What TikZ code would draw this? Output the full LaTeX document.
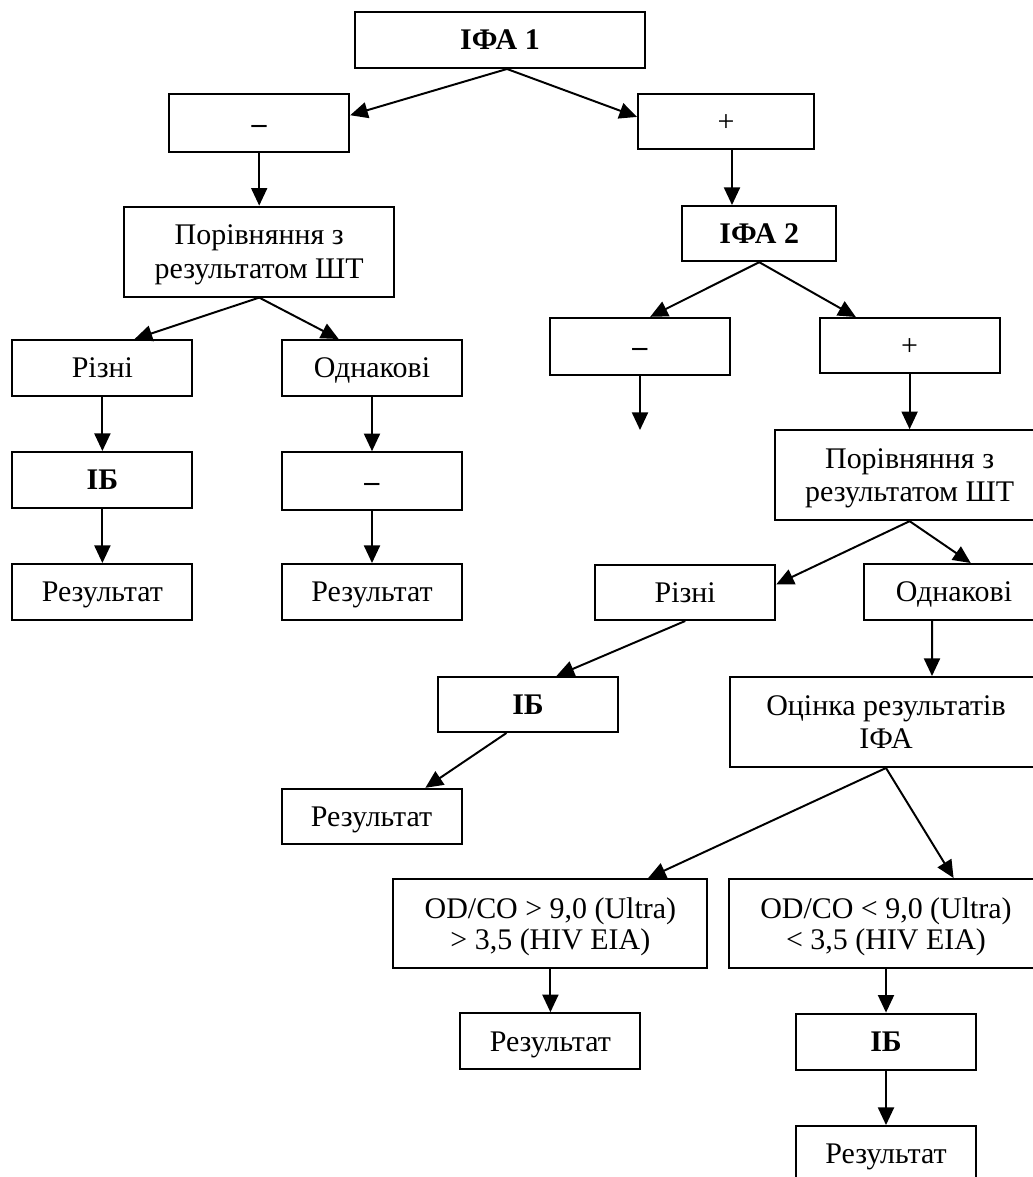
\documentclass[tikz,border=0pt]{standalone}
\usepackage{fontspec}
\setmainfont{Liberation Serif}
\usetikzlibrary{arrows.meta,calc}
\tikzset{
  algnode/.style={draw, line width=1.4pt, align=center, minimum width=45mm, minimum height=14mm, inner sep=2pt, text depth=0pt, font=\fontsize{21.3}{23.5}\selectfont},
  algbox/.style={algnode, text height=14pt},
  algwidebox/.style={algnode, minimum width=67.5mm, minimum height=22.5mm},
  algodbox/.style={algnode, minimum width=78.5mm, minimum height=22.3mm, font=\fontsize{21.3}{21.5}\selectfont},
  algarrow/.style={-{Triangle[length=4.4mm,width=4mm]}, line width=1.4pt}
}
\begin{document}
\begin{tikzpicture}
\useasboundingbox (0,0) rectangle (25.8,-29.425);
\node[algbox, minimum width=72.5mm] (ifa1) at (12.5,-1.0) {\textbf{ІФА 1}};
\node[algbox, minimum height=14.5mm] (neg1) at (6.48,-3.08) {\textbf{–}};
\node[algbox, minimum width=44mm, minimum height=13.8mm] (pos1) at (18.15,-3.04) {+};
\node[algwidebox] (cmp1) at (6.48,-6.29) {Порівняння з\\результатом ШТ};
\node[algbox, minimum width=38.5mm, minimum height=13.8mm] (ifa2) at (18.98,-5.84) {\textbf{ІФА 2}};
\node[algbox] (diff1) at (2.56,-9.2) {Різні};
\node[algbox] (same1) at (9.3,-9.2) {Однакові};
\node[algbox] (ib1) at (2.56,-12.0) {\textbf{ІБ}};
\node[algbox, minimum height=14.5mm] (neg3) at (9.3,-12.03) {\textbf{–}};
\node[algbox] (res1) at (2.56,-14.8) {Результат};
\node[algbox] (res2) at (9.3,-14.8) {Результат};
\node[algbox, minimum height=14.3mm] (neg2) at (16.0,-8.66) {\textbf{–}};
\node[algbox, minimum height=13.8mm] (pos2) at (22.74,-8.64) {+};
\coordinate (neg2end) at (16.0,-10.75);
\node[algwidebox] (cmp2) at (22.74,-11.88) {Порівняння з\\результатом ШТ};
\node[algbox, minimum height=13.8mm] (diff2) at (17.13,-14.81) {Різні};
\node[algbox] (same2) at (23.85,-14.8) {Однакові};
\node[algbox, minimum height=13.8mm] (ib2) at (13.2,-17.61) {\textbf{ІБ}};
\node[algwidebox, minimum width=78mm] (est) at (22.15,-18.05) {Оцінка результатів\\ІФА};
\node[algbox, minimum height=13.8mm] (res3) at (9.29,-20.41) {Результат};
\node[algodbox] (odhigh) at (13.76,-23.09) {OD/CO > 9,0 (Ultra)\\> 3,5 (HIV EIA)};
\node[algodbox] (odlow) at (22.15,-23.09) {OD/CO < 9,0 (Ultra)\\< 3,5 (HIV EIA)};
\node[algbox] (res4) at (13.76,-26.03) {Результат};
\node[algbox] (ib3) at (22.15,-26.04) {\textbf{ІБ}};
\node[algbox] (res5) at (22.15,-28.85) {Результат};
\draw[algarrow] ([xshift=1.75mm]ifa1.south) -- (neg1.5);
\draw[algarrow] ([xshift=1.75mm]ifa1.south) -- (pos1.177);
\draw[algarrow] (neg1.south) -- (cmp1.north);
\draw[algarrow] ([xshift=1.5mm]pos1.south) -- ([xshift=-6.8mm]ifa2.north);
\draw[algarrow] (ifa2.south) -- (neg2.71);
\draw[algarrow] (ifa2.south) -- (pos2.152);
\draw[algarrow] (neg2.south) -- (neg2end);
\draw[algarrow] (pos2.south) -- (cmp2.north);
\draw[algarrow] (cmp1.south) -- (diff1.42);
\draw[algarrow] (cmp1.south) -- (same1.139);
\draw[algarrow] (diff1) -- (ib1);
\draw[algarrow] (ib1) -- (res1);
\draw[algarrow] (same1) -- (neg3);
\draw[algarrow] (neg3) -- (res2);
\draw[algarrow] (cmp2.south) -- (diff2.5);
\draw[algarrow] (cmp2.south) -- (same2.60);
\draw[algarrow] ([xshift=-5.5mm]same2.south) -- ([xshift=11.5mm]est.north);
\draw[algarrow] (diff2.south) -- (ib2.45);
\draw[algarrow] (ib2.233) -- (res3.28);
\draw[algarrow] (est.south) -- (odhigh.25);
\draw[algarrow] (est.south) -- (odlow.34);
\draw[algarrow] (odhigh) -- (res4);
\draw[algarrow] (odlow) -- (ib3);
\draw[algarrow] (ib3) -- (res5);
\end{tikzpicture}
\end{document}
